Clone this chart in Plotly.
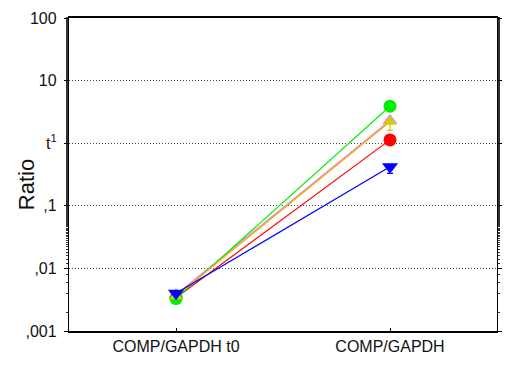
import plotly.graph_objects as go

categories = ["COMP/GAPDH t0", "COMP/GAPDH"]

green_vals = [0.0033, 3.9]
pink_vals = [0.0038, 2.3]
yellow_vals = [0.0036, 2.2]
red_vals = [0.0034, 1.13]
blue_vals = [0.0040, 0.42]

yellow_err_minus = [0.0, 0.6]
red_err_minus = [0.0, 0.1]
blue_err_minus = [0.0, 0.09]

tick_vals = [0.001, 0.01, 0.1, 1, 10, 100]
tick_text = [",001", ",01", ",1", "t<sup>1</sup>", "10", "100"]

series = [
    dict(name="pink", y=pink_vals, line="#e080e8", marker="#e080e8",
         symbol="triangle-up", size=13, err=None),
    dict(name="red", y=red_vals, line="#ff0000", marker="#ff0000",
         symbol="circle", size=13, err=red_err_minus),
    dict(name="green", y=green_vals, line="#00ee00", marker="#00ee00",
         symbol="circle", size=13, err=None),
    dict(name="yellow", y=yellow_vals, line="#f0b000", marker="#d0d000",
         symbol="triangle-up", size=12, err=yellow_err_minus),
    dict(name="blue", y=blue_vals, line="#0000ff", marker="#0000ff",
         symbol="triangle-down", size=14, err=blue_err_minus),
]

fig = go.Figure()
for s in series:
    err = None
    if s["err"] is not None:
        err = dict(type="data", symmetric=False, array=[0, 0],
                   arrayminus=s["err"], color=s["marker"], thickness=1.2, width=3)
    fig.add_trace(go.Scatter(
        x=categories, y=s["y"], mode="lines+markers", name=s["name"],
        line=dict(color=s["line"], width=1.2),
        marker=dict(color=s["marker"], symbol=s["symbol"], size=s["size"],
                    line=dict(width=0)),
        error_y=err,
    ))

fig.update_layout(
    width=512, height=365,
    margin=dict(l=69, r=10, t=17, b=32),
    paper_bgcolor="white", plot_bgcolor="white",
    showlegend=False,
    font=dict(family="Liberation Sans, Arial, sans-serif", color="#111", size=16),
    annotations=[dict(
        text="Ratio", textangle=-90, showarrow=False,
        xref="paper", yref="paper", x=-0.099, y=0.468,
        xanchor="center", yanchor="middle",
        font=dict(size=22, color="#111"),
    )],
)
fig.update_xaxes(
    type="category", range=[-0.5, 1.5],
    showline=True, linecolor="black", linewidth=1.5, mirror=True,
    ticks="inside", ticklen=3, tickcolor="black",
    showgrid=False, tickfont=dict(size=16),
)
fig.update_yaxes(
    type="log", range=[-3, 2],
    tickvals=tick_vals, ticktext=tick_text,
    showline=True, linecolor="black", linewidth=1.3, mirror="ticks",
    ticks="outside", ticklen=4, tickcolor="black", tickwidth=1,
    ticklabelstandoff=4,
    minor=dict(ticks="outside", ticklen=2, tickcolor="#333", tickwidth=1, showgrid=False),
    showgrid=True, gridcolor="#444", griddash="1px,2px", gridwidth=1,
    tickfont=dict(size=16),
)

fig.write_html("out.html")
